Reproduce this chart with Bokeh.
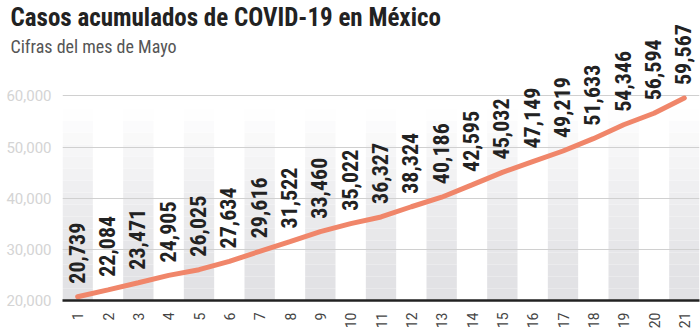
import math
from bokeh.plotting import figure
from bokeh.models import ColumnDataSource, FixedTicker, NumeralTickFormatter, Title, Range1d
from bokeh.core.properties import value
from bokeh.embed import file_html
from bokeh.resources import INLINE

# ---- data ----
days = list(range(1, 22))
cases = [20739, 22084, 23471, 24905, 26025, 27634, 29616, 31522, 33460, 35022,
         36327, 38324, 40186, 42595, 45032, 47149, 49219, 51633, 54346, 56594, 59567]
value_labels = [f"{v:,}" for v in cases]
y_ticks = [20000, 30000, 40000, 50000, 60000]
title_text = "Casos acumulados de COVID-19 en México"
subtitle_text = "Cifras del mes de Mayo"

FONT = "Roboto Condensed, Roboto"
Y_END = 67300

p = figure(width=700, height=332, output_backend="svg", toolbar_location=None,
           x_range=Range1d(0.5, 21.5), y_range=Range1d(20000, Y_END),
           min_border_left=62, min_border_right=1, min_border_bottom=32, min_border_top=0,
           title=None)
p.outline_line_color = None
p.background_fill_color = "white"
p.border_fill_color = "white"

# titles (subtitle first -> closer to frame)
p.add_layout(Title(text=subtitle_text, text_font=FONT, text_font_size="18px",
                   text_font_style="normal", text_color="#555555", offset=-52,
                   standoff=4), "above")
p.add_layout(Title(text=title_text, text_font=FONT, text_font_size="25px",
                   text_font_style="bold", text_color="#222222", offset=-52,
                   standoff=0), "above")

# gradient background bands on odd days
odd = [d for d in days if d % 2 == 1]
n_seg = 16
b0, b1 = 20000, 57500
c0 = (225, 225, 228)
for k in range(n_seg):
    lo = b0 + (b1 - b0) * k / n_seg
    hi = b0 + (b1 - b0) * (k + 1) / n_seg
    t = (k + 0.5) / n_seg
    f = t ** 1.4
    col = tuple(int(round(c + (255 - c) * f)) for c in c0)
    r = p.quad(left=[d - 0.5 for d in odd], right=[d + 0.5 for d in odd],
               bottom=[lo] * len(odd), top=[hi] * len(odd),
               fill_color="#%02x%02x%02x" % col, line_color=None)
    r.level = "image"

# grid
p.xgrid.visible = False
p.ygrid.ticker = FixedTicker(ticks=y_ticks[1:])
p.ygrid.grid_line_color = "#d0d0d0"
p.ygrid.grid_line_width = 1

# axes
p.yaxis.ticker = FixedTicker(ticks=y_ticks)
p.yaxis.formatter = NumeralTickFormatter(format="0,0")
p.yaxis.axis_line_color = None
p.yaxis.major_tick_line_color = None
p.yaxis.minor_tick_line_color = None
p.yaxis.major_label_text_color = "#d4d4d4"
p.yaxis.major_label_text_font = "Roboto"
p.yaxis.major_label_text_font_size = "15px"
p.yaxis.major_label_standoff = 5

p.xaxis.ticker = FixedTicker(ticks=days)
p.xaxis.major_label_orientation = math.pi / 2
p.xaxis.axis_line_color = "#222222"
p.xaxis.axis_line_width = 2.5
p.xaxis.major_tick_line_color = None
p.xaxis.minor_tick_line_color = None
p.xaxis.major_label_text_color = "#444444"
p.xaxis.major_label_text_font = "Roboto"
p.xaxis.major_label_text_font_size = "14px"
p.xaxis.major_label_standoff = 6

src = ColumnDataSource(dict(day=days, cases=cases, lab=value_labels))
p.line("day", "cases", source=src, line_color="#f0866a", line_width=5, line_cap="round")

tr = p.text("day", "cases", text="lab", source=src, angle=math.pi / 2,
            text_align="left", text_baseline="middle", y_offset=-13, x_offset=-1,
            text_font=value(FONT), text_font_style="bold", text_font_size="22px",
            text_color="#222222")
tr.level = "annotation"

open("out.html", "w").write(file_html(p, INLINE))
